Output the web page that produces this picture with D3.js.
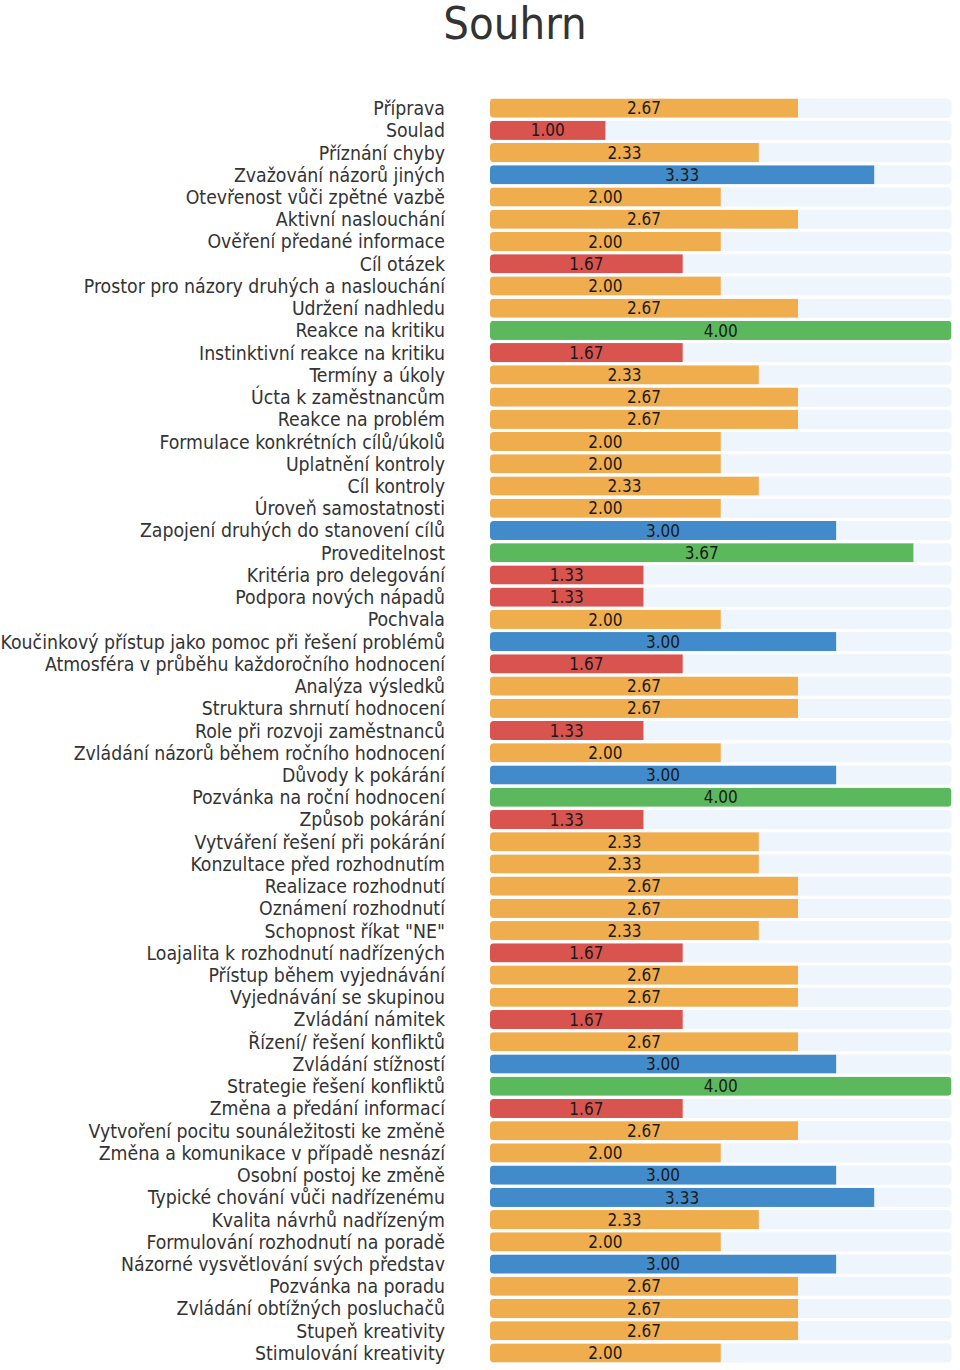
<!DOCTYPE html>
<html>
<head>
<meta charset="utf-8">
<script src="https://cdn.jsdelivr.net/npm/d3@7"></script>
<style>
body{margin:0;background:#fff;}
svg{display:block;font-family:"DejaVu Sans Condensed","DejaVu Sans",sans-serif;font-stretch:condensed;}
</style>
</head>
<body>
<svg id="chart" width="960" height="1370"></svg>
<script>
const categories = ["Příprava","Soulad","Příznání chyby","Zvažování názorů jiných","Otevřenost vůči zpětné vazbě","Aktivní naslouchání","Ověření předané informace","Cíl otázek","Prostor pro názory druhých a naslouchání","Udržení nadhledu","Reakce na kritiku","Instinktivní reakce na kritiku","Termíny a úkoly","Úcta k zaměstnancům","Reakce na problém","Formulace konkrétních cílů/úkolů","Uplatnění kontroly","Cíl kontroly","Úroveň samostatnosti","Zapojení druhých do stanovení cílů","Proveditelnost","Kritéria pro delegování","Podpora nových nápadů","Pochvala","Koučinkový přístup jako pomoc při řešení problémů","Atmosféra v průběhu každoročního hodnocení","Analýza výsledků","Struktura shrnutí hodnocení","Role při rozvoji zaměstnanců","Zvládání názorů během ročního hodnocení","Důvody k pokárání","Pozvánka na roční hodnocení","Způsob pokárání","Vytváření řešení při pokárání","Konzultace před rozhodnutím","Realizace rozhodnutí","Oznámení rozhodnutí","Schopnost říkat \"NE\"","Loajalita k rozhodnutí nadřízených","Přístup během vyjednávání","Vyjednávání se skupinou","Zvládání námitek","Řízení/ řešení konfliktů","Zvládání stížností","Strategie řešení konfliktů","Změna a předání informací","Vytvoření pocitu sounáležitosti ke změně","Změna a komunikace v případě nesnází","Osobní postoj ke změně","Typické chování vůči nadřízenému","Kvalita návrhů nadřízeným","Formulování rozhodnutí na poradě","Názorné vysvětlování svých představ","Pozvánka na poradu","Zvládání obtížných posluchačů","Stupeň kreativity","Stimulování kreativity"];
const values = [2.67,1.00,2.33,3.33,2.00,2.67,2.00,1.67,2.00,2.67,4.00,1.67,2.33,2.67,2.67,2.00,2.00,2.33,2.00,3.00,3.67,1.33,1.33,2.00,3.00,1.67,2.67,2.67,1.33,2.00,3.00,4.00,1.33,2.33,2.33,2.67,2.67,2.33,1.67,2.67,2.67,1.67,2.67,3.00,4.00,1.67,2.67,2.00,3.00,3.33,2.33,2.00,3.00,2.67,2.67,2.67,2.00];
const maxValue = 4;
const thresholds = [2, 3, 3.5];
const colors = ["#d9534f","#f0ad4e","#428bca","#5cb85c"];

const svg = d3.select("#chart");
const data = categories.map((c,i)=>({c, v: values[i], i}));

const x = d3.scaleLinear().domain([0, maxValue]).range([490, 951.5]);
const y = d3.scaleBand().domain(categories).range([97, 97 + 57*22.23]).paddingInner(0.14).paddingOuter(0.07);
const color = d3.scaleThreshold().domain(thresholds).range(colors);

svg.append("text").attr("x", 515).attr("y", 39).attr("text-anchor","middle")
  .attr("font-size", 45).attr("fill","#333").text("Souhrn");

const defs = svg.append("defs");
const rows = svg.selectAll("g.row").data(data).join("g").attr("class","row");

rows.each(function(d){
  const g = d3.select(this);
  const id = "clip" + d.i;
  defs.append("clipPath").attr("id", id).append("rect")
    .attr("x", x(0)).attr("y", y(d.c)).attr("width", x(maxValue)-x(0)).attr("height", y.bandwidth())
    .attr("rx", 4).attr("ry", 4);
  g.append("rect").attr("x", x(0)).attr("y", y(d.c)).attr("width", x(maxValue)-x(0)).attr("height", y.bandwidth())
    .attr("rx", 4).attr("ry", 4).attr("fill","#eff5fc");
  g.append("rect").attr("clip-path", `url(#${id})`).attr("x", x(0)).attr("y", y(d.c))
    .attr("width", x(d.v)-x(0)).attr("height", y.bandwidth()).attr("fill", color(d.v));
  g.append("text").attr("x", (x(0)+x(d.v))/2).attr("y", y(d.c)+y.bandwidth()/2).attr("dy","0.36em")
    .attr("text-anchor","middle").attr("font-size", 17).attr("fill","#1a1a1a").text(d.v.toFixed(2));
  g.append("text").attr("x", 445).attr("y", y(d.c)+y.bandwidth()/2).attr("dy","0.36em")
    .attr("text-anchor","end").attr("font-size", 19.3).attr("fill","#333").text(d.c);
});
</script>
</body>
</html>
